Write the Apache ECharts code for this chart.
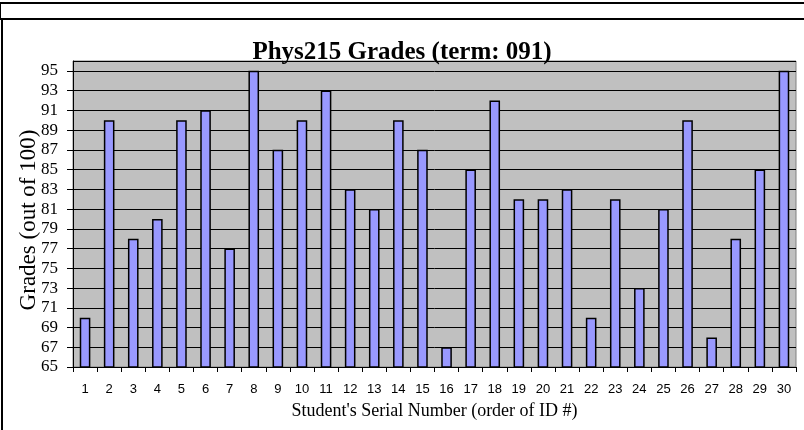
<!DOCTYPE html>
<html>
<head>
<meta charset="utf-8">
<script src="https://cdn.jsdelivr.net/npm/echarts@6/dist/echarts.min.js"></script>
<style>
  html, body { margin: 0; padding: 0; background: #fff; }
  #frame1 { position: absolute; left: 0; top: 2px; width: 804px; height: 16px; border-top: 2px solid #000; border-left: 1px solid #000; }
  #frame2 { position: absolute; left: 1px; top: 18px; width: 803px; height: 412px; border-top: 2px solid #000; border-left: 2px solid #000; }
  #chart { position: absolute; left: 0; top: 0; width: 804px; height: 430px; }
</style>
</head>
<body>
<div id="frame1"></div>
<div id="frame2"></div>
<div id="chart"></div>
<script>
// student serial numbers (order of ID #)
var students = ['1','2','3','4','5','6','7','8','9','10','11','12','13','14','15',
  '16','17','18','19','20','21','22','23','24','25','26','27','28','29','30'];
// grades, out of 100
var grades = [70, 90, 78, 80, 90, 91, 77, 95, 87, 90, 93, 83, 81, 90, 87,
  67, 85, 92, 82, 82, 83, 70, 82, 73, 81, 90, 68, 78, 85, 95];

var chart = echarts.init(document.getElementById('chart'));
chart.setOption({
  animation: false,
  title: {
    text: 'Phys215 Grades (term: 091)',
    left: 'center',
    top: 35,
    textStyle: { fontFamily: 'Liberation Serif', fontWeight: 'bold', fontSize: 25, color: '#000' }
  },
  grid: {
    left: 73, right: 8, top: 61, bottom: 63,
    show: true,
    backgroundColor: '#c0c0c0',
    borderColor: '#808080',
    borderWidth: 1
  },
  xAxis: {
    type: 'category',
    data: students,
    name: "Student's Serial Number (order of ID #)",
    nameLocation: 'middle',
    nameGap: 35,
    nameTextStyle: { fontFamily: 'Liberation Serif', fontSize: 18, color: '#000' },
    axisLine: { lineStyle: { color: '#000', width: 1 } },
    axisTick: { show: true, length: 5, lineStyle: { color: '#000' } },
    axisLabel: { fontFamily: 'Liberation Sans', fontSize: 13, color: '#000', margin: 16, interval: 0 }
  },
  yAxis: {
    type: 'value',
    min: 65,
    max: 96,
    interval: 2,
    name: 'Grades (out of 100)',
    nameLocation: 'middle',
    nameGap: 33,
    nameMoveOverlap: false,
    nameTextStyle: { fontFamily: 'Liberation Serif', fontSize: 23, color: '#000', padding: [0, 12, 0, 0] },
    axisLine: { show: true, lineStyle: { color: '#000' } },
    axisTick: { show: true, length: 6, lineStyle: { color: '#000' } },
    axisLabel: { fontFamily: 'Liberation Serif', fontSize: 17, color: '#000', margin: 15, showMaxLabel: false },
    splitLine: { show: true, lineStyle: { color: '#000', width: 1 } }
  },
  series: [{
    type: 'bar',
    data: grades,
    barWidth: '44%',
    itemStyle: { color: '#9999ff', borderColor: '#000', borderWidth: 1.5 }
  }]
});
</script>
</body>
</html>
